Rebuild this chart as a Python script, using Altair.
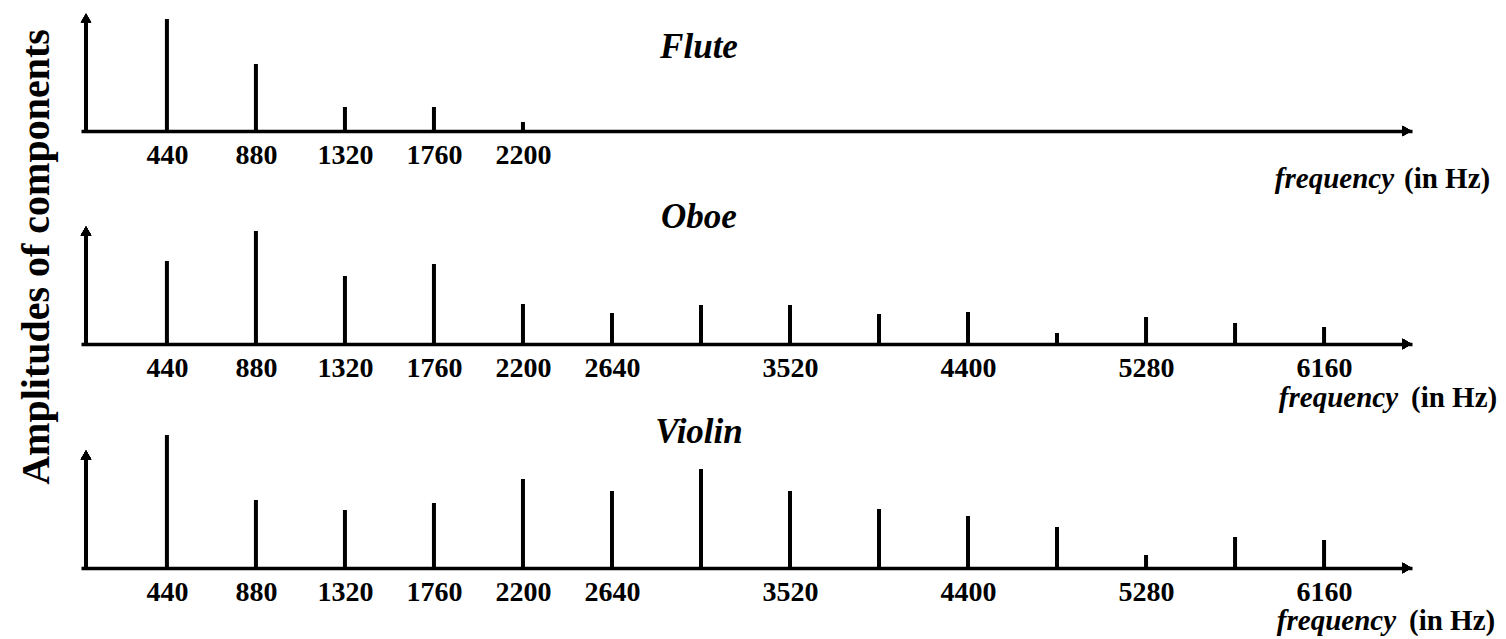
import altair as alt
import pandas as pd

# ---------------- data ----------------
TITLES = ["Flute", "Oboe", "Violin"]
Y_TITLE = "Amplitudes of components"
FREQ_WORD = "frequency"
UNIT_WORD = "(in Hz)"

FREQ_FLUTE = [440, 880, 1320, 1760, 2200]
AMP_FLUTE = [112, 67, 24, 24, 9]

FREQ_FULL = [440, 880, 1320, 1760, 2200, 2640, 3080, 3520, 3960, 4400, 4840, 5280, 5720, 6160]
AMP_OBOE = [83, 113, 68, 80, 40, 31, 39, 39, 30, 32, 11, 27, 21, 17]
AMP_VIOLIN = [133, 68, 58, 65, 89, 77, 99, 77, 59, 52, 41, 13, 31, 28]

LABELS_FLUTE = [440, 880, 1320, 1760, 2200]
LABELS_FULL = [440, 880, 1320, 1760, 2200, 2640, 3520, 4400, 5280, 6160]

# ---------------- layout / style ----------------
X_MIN, X_MAX = 40, 6570
AXIS_TOP = 113
W = 1331
SERIF = "Liberation Serif"
LINE_W = 3.5


def panel(title, freqs, amps, labels, height, title_y, word_y, unit_x, word_x, extra=None):
    df = pd.DataFrame({"freq": freqs, "amp": amps})
    xscale = alt.Scale(domain=[X_MIN, X_MAX], nice=False, zero=False)
    yscale = alt.Scale(domain=[0, height], nice=False, zero=True)
    xaxis = alt.Axis(
        values=labels, title=None, ticks=False, grid=False, domain=True,
        domainColor="black", domainWidth=LINE_W, format="d",
        labelFont=SERIF, labelFontSize=28, labelFontWeight="bold", labelColor="black",
        labelPadding=24, labelBaseline="middle", labelFlush=False, labelOverlap=False,
    )
    bars = alt.Chart(df).mark_bar(color="black", size=4).encode(
        x=alt.X("freq:Q", scale=xscale, axis=xaxis),
        y=alt.Y("amp:Q", scale=yscale, axis=None),
    )
    yline = alt.Chart(df).mark_rule(color="black", strokeWidth=LINE_W).encode(
        x=alt.datum(X_MIN), y=alt.datum(0), y2=alt.datum(AXIS_TOP)
    )
    up = alt.Chart(df).mark_point(
        shape="triangle-up", filled=True, size=110, color="black", opacity=1, strokeWidth=0
    ).encode(x=alt.datum(X_MIN), y=alt.datum(AXIS_TOP))
    right = alt.Chart(df).mark_point(
        shape="triangle-right", filled=True, size=110, color="black", opacity=1, strokeWidth=0
    ).encode(x=alt.datum(X_MAX), y=alt.datum(0))
    tdf = pd.DataFrame({"t": [title], "w": [FREQ_WORD], "u": [UNIT_WORD]})
    ttl = alt.Chart(tdf).mark_text(
        font=SERIF, fontSize=35, fontWeight="bold", fontStyle="italic",
        color="black", align="center", baseline="alphabetic",
    ).encode(text="t:N", x=alt.value(618), y=alt.value(title_y))
    word = alt.Chart(tdf).mark_text(
        font=SERIF, fontSize=29, fontWeight="bold", fontStyle="italic",
        color="black", align="right", baseline="alphabetic",
    ).encode(text="w:N", x=alt.value(word_x), y=alt.value(word_y))
    unit = alt.Chart(tdf).mark_text(
        font=SERIF, fontSize=29, fontWeight="bold",
        color="black", align="left", baseline="alphabetic",
    ).encode(text="u:N", x=alt.value(unit_x), y=alt.value(word_y))
    layers = [bars, yline, up, right, ttl, word, unit]
    if extra is not None:
        layers.append(extra)
    return alt.layer(*layers).properties(width=W, height=height)


ytitle = alt.Chart(pd.DataFrame({"t": [Y_TITLE]})).mark_text(
    font=SERIF, fontSize=40, fontWeight="bold", color="black",
    align="center", baseline="middle", angle=270,
).encode(text="t:N", x=alt.value(-44), y=alt.value(106))

flute = panel(TITLES[0], FREQ_FLUTE, AMP_FLUTE, LABELS_FLUTE, 119, 46, 176, 1323, 1313)
oboe = panel(TITLES[1], FREQ_FULL, AMP_OBOE, LABELS_FULL, 193, 77, 256, 1330, 1317, extra=ytitle)
violin = panel(TITLES[2], FREQ_FULL, AMP_VIOLIN, LABELS_FULL, 204, 79, 266, 1328, 1315)

chart = alt.vconcat(flute, oboe, violin, spacing=20, bounds="flush").properties(
    padding={"left": 8, "top": 4, "right": 0, "bottom": 0},
    background="white",
).configure_view(stroke=None)

chart.save("out.html", embed_options={"renderer": "svg", "actions": False})
